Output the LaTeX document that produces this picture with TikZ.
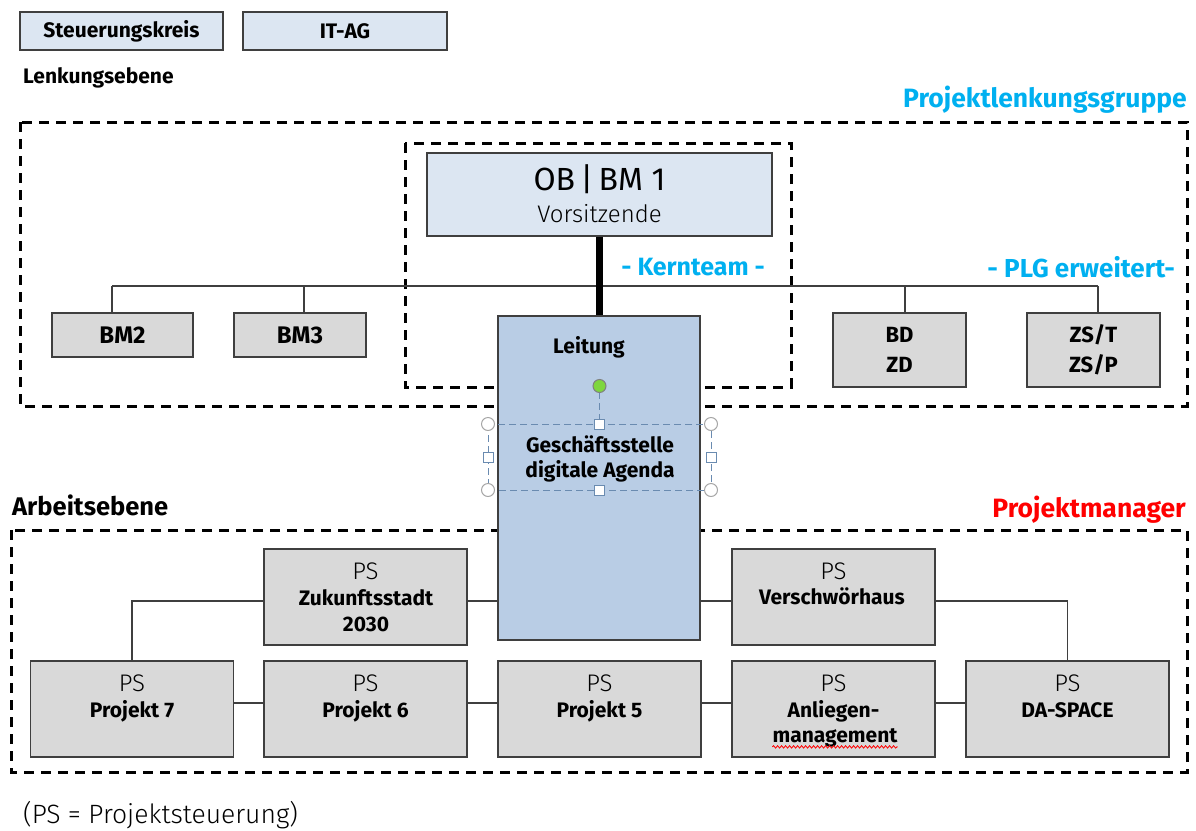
\documentclass[tikz,border=0pt]{standalone}
\usepackage{fontspec}
\setmainfont{Fira Sans}
\newfontfamily\lightfont{Fira Sans Light}
\usetikzlibrary{positioning, calc, decorations.pathmorphing}

\definecolor{boxline}{HTML}{3F3F3F}
\definecolor{boxgray}{HTML}{D9D9D9}
\definecolor{paleblue}{HTML}{DCE6F2}
\definecolor{leadblue}{HTML}{B9CDE5}
\definecolor{plgcyan}{HTML}{00B0F0}
\definecolor{handleblue}{HTML}{6A8BB0}
\definecolor{handlegreen}{HTML}{7ED63E}

\begin{document}
\begin{tikzpicture}[x=1pt, y=-1pt]
    \tikzset{
      frame/.style={draw=black, line width=3pt, dash pattern=on 10pt off 7pt},
      paleb/.style={rectangle, draw=boxline, line width=1.3pt, fill=paleblue, inner sep=0pt},
      grayb/.style={rectangle, draw=boxline, line width=1.3pt, fill=boxgray, inner sep=0pt},
      conn/.style={draw=boxline, line width=1.4pt},
      boldtxt/.style={font=\fontsize{21}{25}\selectfont\bfseries, inner sep=0pt, anchor=base},
      lighttxt/.style={font=\fontsize{24}{28}\selectfont\lightfont, inner sep=0pt, anchor=base},
      cyantxt/.style={text=plgcyan, font=\fontsize{26}{30}\selectfont\bfseries, inner sep=0pt, anchor=base east},
      handle/.style={draw=handleblue, line width=1pt, dash pattern=on 7pt off 4pt}
    }
    \useasboundingbox (0,0) rectangle (1196,830);

    % Lenkungsebene
    \node[paleb, minimum width=203, minimum height=38, font=\fontsize{21}{25}\selectfont\bfseries] (sk) at (121.5,31) {Steuerungskreis};
    \node[paleb, minimum width=204, minimum height=38, font=\fontsize{21}{25}\selectfont\bfseries] (itag) at (345,31) {IT-AG};
    \node[boldtxt, anchor=base west] (lenk) at (23,83) {Lenkungsebene};
    \node[cyantxt, font=\fontsize{26.5}{30}\selectfont\bfseries] (plg) at (1187,107) {Projektlenkungsgruppe};

    \draw[frame] (20,122) rectangle (1187,406);
    \draw[frame] (405,143) rectangle (791,387);
    \node[cyantxt, font=\fontsize{25}{30}\selectfont\bfseries] (kern) at (765,275) {- Kernteam -};
    \node[cyantxt] (plgx) at (1175,277) {- PLG erweitert-};

    % bus below the chair
    \coordinate (tap2) at (112,286);
    \coordinate (tap3) at (304,286);
    \coordinate (tapbd) at (905,286);
    \coordinate (tapzs) at (1098,286);
    \draw[conn] (tap2) -- (tapzs);

    \node[paleb, minimum width=345, minimum height=83] (ob) at (599.5,194.5) {};
    \node[font=\fontsize{32}{36}\selectfont, inner sep=0pt, anchor=base] (obt) at (599.5,190) {OB\,|\,BM 1};
    \node[lighttxt] (vors) at (599.5,222) {Vorsitzende};

    \node[grayb, minimum width=141, minimum height=44, font=\fontsize{24}{28}\selectfont\bfseries] (bm2) at (122.5,335) {BM2};
    \node[grayb, minimum width=132, minimum height=44, font=\fontsize{24}{28}\selectfont\bfseries] (bm3) at (300,335) {BM3};
    \node[grayb, minimum width=133, minimum height=74, align=center, font=\fontsize{22}{30}\selectfont\bfseries] (bd) at (899.5,350) {BD\\ZD};
    \node[grayb, minimum width=133, minimum height=74, align=center, font=\fontsize{22}{30}\selectfont\bfseries] (zst) at (1093.5,350) {ZS/T\\ZS/P};
    \foreach \t/\b in {tap2/bm2, tap3/bm3, tapbd/bd, tapzs/zst}
      \draw[conn] (\t) -- (\t |- \b.north);

    % Arbeitsebene
    \draw[frame] (11,530) rectangle (1187,772);
    \node[boldtxt, anchor=base west, font=\fontsize{25.5}{30}\selectfont\bfseries] (arb) at (12,515) {Arbeitsebene};
    \node[cyantxt, text=red, font=\fontsize{26.5}{30}\selectfont\bfseries] (pm) at (1186,517) {Projektmanager};

    % Leitung
    \node[rectangle, draw=boxline, line width=1.3pt, fill=leadblue, minimum width=202, minimum height=324] (lt) at (599,478) {};
    \draw[line width=7pt] (ob.south) -- (ob.south |- lt.north);
    \node[boldtxt] (ltt) at (589,353) {Leitung};

    % text frame with its handles
    \draw[handle] (488,424) rectangle (711,490);
    \draw[handle] (599.5,392) -- (599.5,424);
    \foreach \p in {(488,424), (711,424), (488,490), (711,490)}
      \draw[draw=gray!70, fill=white, line width=1pt] \p circle (6.5);
    \foreach \p in {(599.5,424), (599.5,490), (488,457), (711,457)}
      \draw[draw=handleblue, fill=white, line width=1pt] \p ++(-5,-5) rectangle ++(10,10);
    \draw[draw=gray, fill=handlegreen, line width=1pt] (599.5,386) circle (6.5);
    \node[font=\fontsize{21}{25}\selectfont\bfseries, align=center, inner sep=0pt] (gs) at (600,459) {Geschäftsstelle\\digitale Agenda};

    % Projekte
    \coordinate (midrow) at (0,601);
    \coordinate (lowrow) at (0,703);
    \node[grayb, minimum width=203, minimum height=96] (zuk) at (365.5,597) {};
    \node[lighttxt] (zuk-ps) at (365.5,579) {PS};
    \node[boldtxt] (zuk-n1) at (366,605) {Zukunftsstadt};
    \node[boldtxt] (zuk-n2) at (366,631) {2030};
    \node[grayb, minimum width=203, minimum height=96] (vh) at (833.5,597) {};
    \node[lighttxt] (vh-ps) at (833.5,579) {PS};
    \node[boldtxt] (vh-name) at (832,604) {Verschwörhaus};

    \foreach \n/\x/\t in {p7/132/Projekt 7, p6/365.5/Projekt 6, p5/599.5/Projekt 5, am/833.5/Anliegen-, ds/1067.5/DA-SPACE} {
      \node[grayb, minimum width=203, minimum height=96] (\n) at (\x,709) {};
      \node[lighttxt] (\n-ps) at (\x,691) {PS};
      \node[boldtxt] (\n-name) at (\x,717) {\t};
    }
    \node[boldtxt] (am-name2) at (835,742) {management};
    \draw[red, line width=0.8pt, decorate, decoration={snake, amplitude=1.2pt, segment length=4pt}]
      (am-name2.south west) -- (am-name2.south east);

    \draw[conn] (zuk.west |- midrow) -| (p7.north);
    \draw[conn] (zuk.east |- midrow) -- (lt.west |- midrow);
    \draw[conn] (lt.east |- midrow) -- (vh.west |- midrow);
    \draw[conn] (vh.east |- midrow) -| (ds.north);
    \foreach \a/\b in {p7/p6, p6/p5, p5/am, am/ds}
      \draw[conn] (\a.east |- lowrow) -- (\b.west |- lowrow);

    \node[lighttxt, anchor=base west, font=\fontsize{26.5}{30}\selectfont\lightfont] (note) at (23,823) {(PS = Projektsteuerung)};
  \end{tikzpicture}
\end{document}
